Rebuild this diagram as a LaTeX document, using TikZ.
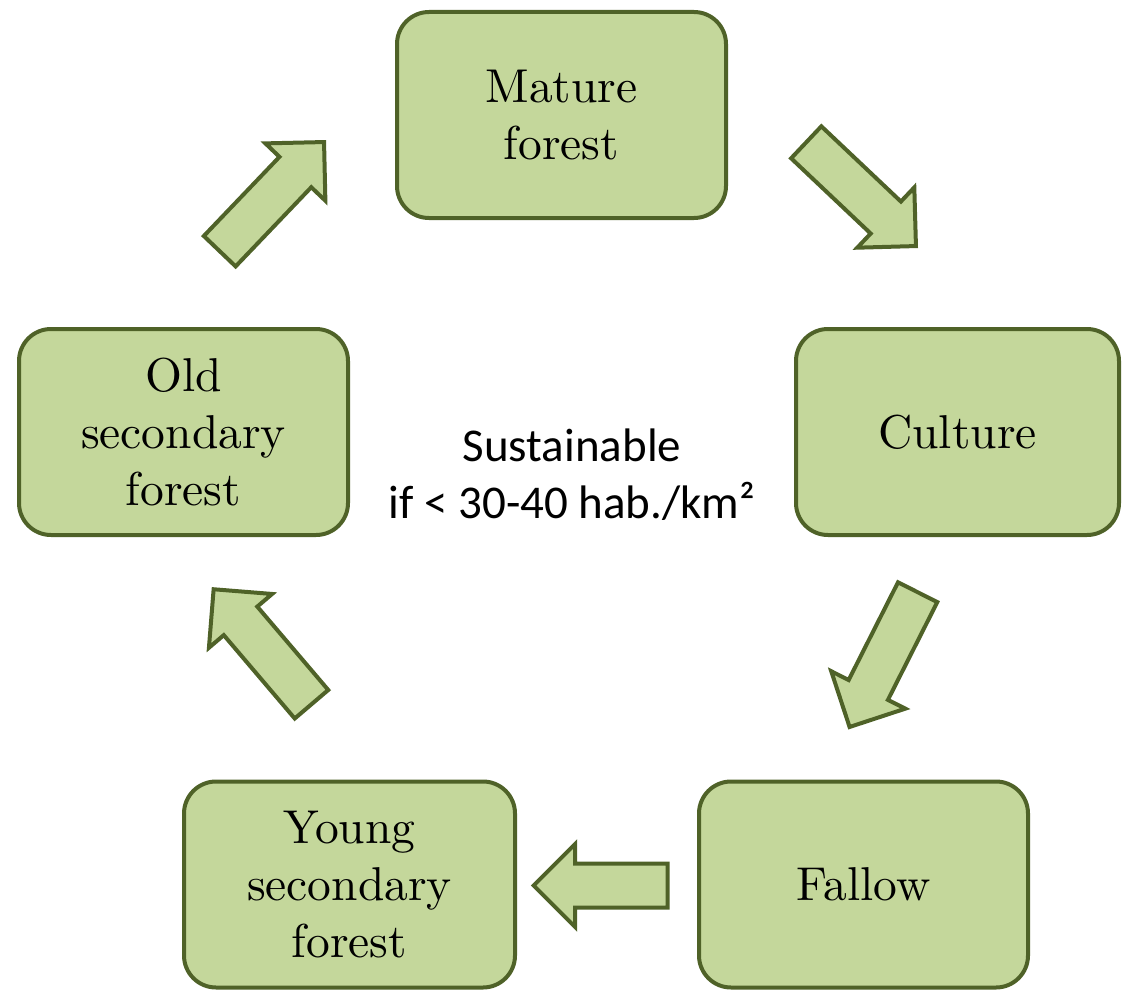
\documentclass[tikz,border=0pt]{standalone}
\usepackage{fontspec}
\setmainfont{lmroman10-regular}[Extension=.otf]
\newfontfamily\calibri{Carlito}
\usetikzlibrary{shapes.arrows}
\definecolor{leaf}{HTML}{C4D79B}
\definecolor{bark}{HTML}{4F6228}
\tikzset{
  stage/.style={draw=bark, fill=leaf, line width=4pt, rounded corners=32pt, minimum width=329pt, minimum height=206pt, inner sep=0pt, align=center, font=\fontsize{47.5}{57}\selectfont},
  turn/.style={single arrow, draw=bark, fill=leaf, line width=4pt, minimum height=151pt, inner xsep=0pt, inner ysep=20pt, single arrow head extend=19.5pt, single arrow tip angle=90, anchor=tip}
}

\begin{document}
\begin{tikzpicture}[x=1pt,y=-1pt]
    \useasboundingbox (0,0) rectangle (1122,990);
    % the five stages
    \node[stage](mf) at (561.5,115){Mature\\forest};
    \node[stage, minimum width=323pt](cu) at (957.5,432){Culture};
    \node[stage](fa) at (863.5,884.5){Fallow};
    \node[stage, minimum width=331pt](ys) at (349.5,884.5){Young\\secondary\\forest};
    \node[stage](os) at (183.5,432){Old\\secondary\\forest};
    % block arrows round the cycle, placed by their tips
    \node[turn, rotate=46.3](a1) at (326,140){};
    \node[turn, rotate=-43.4](a2) at (918,248){};
    \node[turn, rotate=243.2](a3) at (848.3,729.5){};
    \node[turn, rotate=180, minimum height=134pt](a4) at (530.8,885.5){};
    \node[turn, rotate=130.4](a5) at (211.8,587.1){};
    % middle note
    \node[align=center, font=\calibri\fontsize{47}{57}\selectfont](note) at (572,475){Sustainable\\if < 30-40 hab./km²};
\end{tikzpicture}
\end{document}
